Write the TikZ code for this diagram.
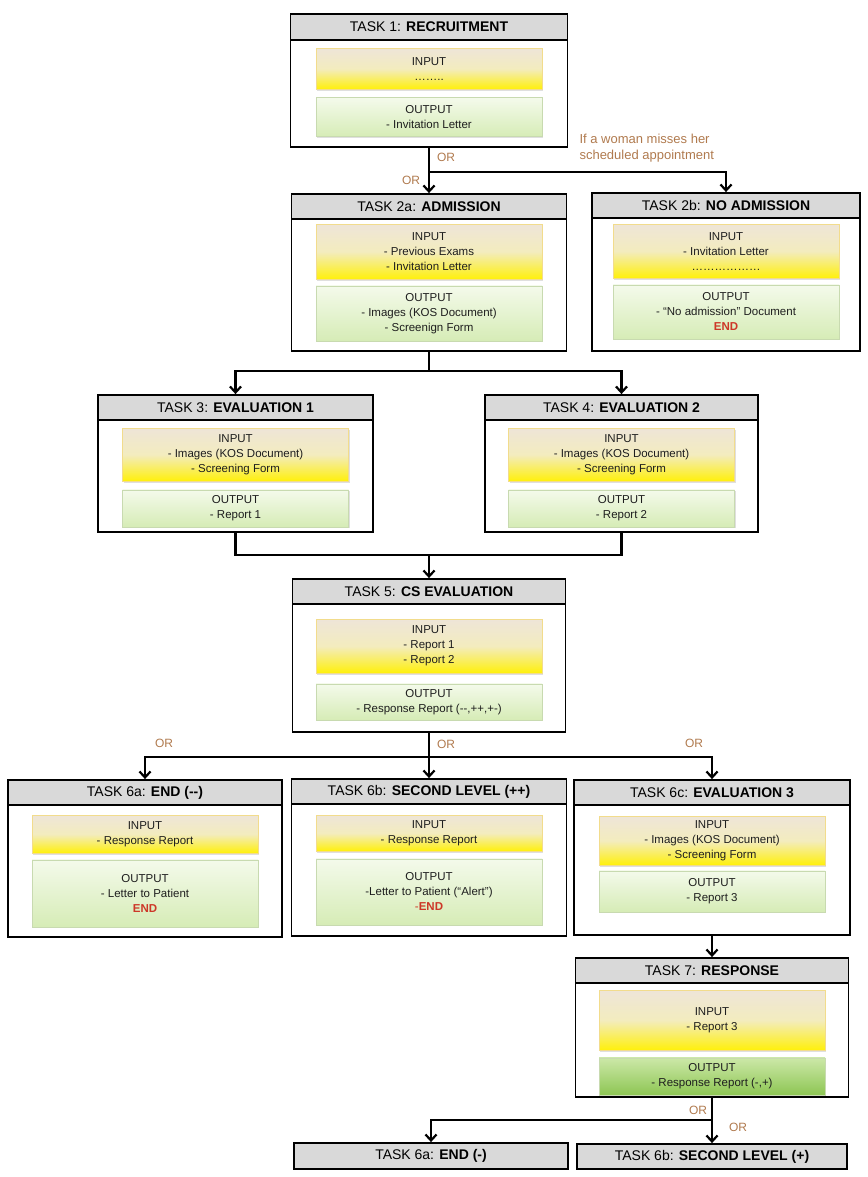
\documentclass[tikz,border=0pt]{standalone}
\usepackage{fontspec}
\setmainfont{Liberation Sans}
\usetikzlibrary{arrows.meta, positioning, shadows}
\usepackage{xcolor}
\definecolor{headgray}{RGB}{217,217,217}
\definecolor{intop}{RGB}{238,229,216}
\definecolor{inmid}{RGB}{243,236,190}
\definecolor{inbot}{RGB}{255,240,10}
\definecolor{inborder}{RGB}{242,220,140}
\definecolor{outtop}{RGB}{244,250,235}
\definecolor{outbot}{RGB}{214,236,182}
\definecolor{outborder}{RGB}{200,218,176}
\definecolor{outdtop}{RGB}{204,232,168}
\definecolor{outdbot}{RGB}{142,198,84}
\definecolor{orbrown}{RGB}{176,122,78}
\definecolor{endred}{RGB}{205,55,40}
\definecolor{boxtext}{RGB}{30,30,30}

\begin{document}
\begin{tikzpicture}[
x=1pt, y=-1pt,
node distance=6pt,
taskframe/.style={draw,
line width=1.8pt,
fill=white},
head/.style={draw,
line width=1.8pt,
fill=headgray,
anchor=north,
minimum height=25pt,
inner sep=0pt,
font=\fontsize{14}{16}\selectfont},
inbox/.style={draw=inborder,
line width=0.6pt,
top color=intop, bottom color=inbot, middle color=inmid,
minimum width=226pt,
inner sep=2pt,
align=center,
text=boxtext,
font=\fontsize{11.5}{15}\selectfont,
drop shadow={shadow xshift=1.2pt, shadow yshift=-1.5pt, opacity=0.25}},
outbox/.style={draw=outborder,
line width=0.6pt,
top color=outtop, bottom color=outbot,
minimum width=226pt,
inner sep=2pt,
align=center,
text=boxtext,
font=\fontsize{11.5}{15}\selectfont,
drop shadow={shadow xshift=1.2pt, shadow yshift=-1.5pt, opacity=0.25}},
outdark/.style={outbox, top color=outdtop, bottom color=outdbot},
orlabel/.style={text=orbrown, font=\fontsize{12}{15}\selectfont},
link/.style={line width=2.2pt},
arrow/.style={-{Straight Barb[length=6pt, width=11pt]}, line width=2.2pt}
]

\useasboundingbox (0,0) rectangle (867,1177);

% task 1
\node[taskframe, minimum width=277pt, minimum height=133pt] (t1) at (429,80.5) {};
\node[head, minimum width=277pt, minimum height=26pt] (t1h) at (t1.north) {TASK 1: \textbf{RECRUITMENT}};
\node[inbox, below=7pt of t1h, minimum height=41pt] (t1in) {INPUT\\……..};
\node[outbox, below=8pt of t1in, minimum height=39pt] (t1out) {OUTPUT\\- Invitation Letter};

% task 2a and 2b
\node[taskframe, minimum width=275pt, minimum height=157pt] (t2a) at (429,272.5) {};
\node[head, minimum width=275pt] (t2ah) at (t2a.north) {TASK 2a: \textbf{ADMISSION}};
\node[inbox, below=4pt of t2ah, minimum height=55pt] (t2ain) {INPUT\\- Previous Exams\\- Invitation Letter};
\node[outbox, below=6pt of t2ain, minimum height=55pt] (t2aout) {OUTPUT\\- Images (KOS Document)\\- Screenign Form};

\node[taskframe, minimum width=268pt, minimum height=158pt] (t2b) at (726,272) {};
\node[head, minimum width=268pt] (t2bh) at (t2b.north) {TASK 2b: \textbf{NO ADMISSION}};
\node[inbox, below=5pt of t2bh, minimum height=54pt] (t2bin) {INPUT\\- Invitation Letter\\………………};
\node[outbox, below=6pt of t2bin, minimum height=54pt] (t2bout) {OUTPUT\\- “No admission” Document\\\textcolor{endred}{\textbf{END}}};

% task 3 and 4
\node[taskframe, minimum width=275pt, minimum height=137pt] (t3) at (235.5,463.5) {};
\node[head, minimum width=275pt] (t3h) at (t3.north) {TASK 3: \textbf{EVALUATION 1}};
\node[inbox, below=7pt of t3h, minimum height=53pt] (t3in) {INPUT\\- Images (KOS Document)\\- Screening Form};
\node[outbox, below=8pt of t3in, minimum height=37pt] (t3out) {OUTPUT\\- Report 1};

\node[taskframe, minimum width=273pt, minimum height=137pt] (t4) at (621.5,463.5) {};
\node[head, minimum width=273pt] (t4h) at (t4.north) {TASK 4: \textbf{EVALUATION 2}};
\node[inbox, below=7pt of t4h, minimum height=53pt] (t4in) {INPUT\\- Images (KOS Document)\\- Screening Form};
\node[outbox, below=8pt of t4in, minimum height=37pt] (t4out) {OUTPUT\\- Report 2};

% task 5
\node[taskframe, minimum width=273pt, minimum height=153pt] (t5) at (429,655.5) {};
\node[head, minimum width=273pt] (t5h) at (t5.north) {TASK 5: \textbf{CS EVALUATION}};
\node[inbox, below=14pt of t5h, minimum height=54pt] (t5in) {INPUT\\- Report 1\\- Report 2};
\node[outbox, below=10pt of t5in, minimum height=36pt] (t5out) {OUTPUT\\- Response Report (-{}-,++,+-)};

% task 6a, 6b, 6c
\node[taskframe, minimum width=274pt, minimum height=157pt] (t6a) at (145,858.5) {};
\node[head, minimum width=274pt] (t6ah) at (t6a.north) {TASK 6a: \textbf{END (-{}-)}};
\node[inbox, below=9pt of t6ah, minimum height=38pt] (t6ain) {INPUT\\- Response Report};
\node[outbox, below=6pt of t6ain, minimum height=67pt] (t6aout) {OUTPUT\\- Letter to Patient\\\textcolor{endred}{\textbf{END}}};

\node[taskframe, minimum width=275pt, minimum height=157pt] (t6b) at (429,857.5) {};
\node[head, minimum width=275pt] (t6bh) at (t6b.north) {TASK 6b: \textbf{SECOND LEVEL (++)}};
\node[inbox, below=10pt of t6bh, minimum height=36pt] (t6bin) {INPUT\\- Response Report};
\node[outbox, below=7pt of t6bin, minimum height=66pt] (t6bout) {OUTPUT\\-Letter to Patient (“Alert”)\\\textcolor{endred}{-\textbf{END}}};

\node[taskframe, minimum width=276pt, minimum height=155pt] (t6c) at (712,857.5) {};
\node[head, minimum width=276pt] (t6ch) at (t6c.north) {TASK 6c: \textbf{EVALUATION 3}};
\node[inbox, below=10pt of t6ch, minimum height=49pt] (t6cin) {INPUT\\- Images (KOS Document)\\- Screening Form};
\node[outbox, below=5pt of t6cin, minimum height=41pt] (t6cout) {OUTPUT\\- Report 3};

% task 7
\node[taskframe, minimum width=273pt, minimum height=139pt] (t7) at (712,1027.5) {};
\node[head, minimum width=273pt] (t7h) at (t7.north) {TASK 7: \textbf{RESPONSE}};
\node[inbox, below=6pt of t7h, minimum height=60pt] (t7in) {INPUT\\- Report 3};
\node[outdark, below=7pt of t7in, minimum height=37pt] (t7out) {OUTPUT\\- Response Report (-,+)};

% last row
\node[head, anchor=center, minimum width=274pt, minimum height=26pt] (fin6a) at (431,1156) {TASK 6a: \textbf{END (-)}};
\node[head, anchor=center, minimum width=270pt, minimum height=25pt] (fin6b) at (712,1156.5) {TASK 6b: \textbf{SECOND LEVEL (+)}};

% connectors
\coordinate (j1) at (429,172);
\coordinate (j2) at (429,371);
\coordinate (j3) at (429,555);
\coordinate (j4) at (429,757);
\coordinate (j5) at (712,1120);

\draw[link] (t1) -- (j1);
\draw[arrow] (j1) -- (t2a);
\draw[arrow] (j1) -| (t2b);
\draw[link] (t2a) -- (j2);
\draw[arrow] (j2) -| (t3);
\draw[arrow] (j2) -| (t4);
\draw[link] (t3) |- (j3);
\draw[link] (t4) |- (j3);
\draw[arrow] (j3) -- (t5);
\draw[link] (t5) -- (j4);
\draw[arrow] (j4) -| (t6a);
\draw[arrow] (j4) -- (t6b);
\draw[arrow] (j4) -| (t6c);
\draw[arrow] (t6c) -- (t7);
\draw[link] (t7) -- (j5);
\draw[arrow] (j5) -- (fin6b);
\draw[arrow] (j5) -| (fin6a);

% labels
\node[orlabel] (or1) at (446,157) {OR};
\node[orlabel] (or2) at (411,180) {OR};
\node[orlabel, anchor=west, align=left, font=\fontsize{13}{16}\selectfont] (miss) at (576,148) {If a woman misses her\\scheduled appointment};
\node[orlabel] (or3) at (164,743) {OR};
\node[orlabel] (or4) at (446,744) {OR};
\node[orlabel] (or5) at (694,743) {OR};
\node[orlabel] (or6) at (698,1110) {OR};
\node[orlabel] (or7) at (738,1127) {OR};

\end{tikzpicture}
\end{document}
